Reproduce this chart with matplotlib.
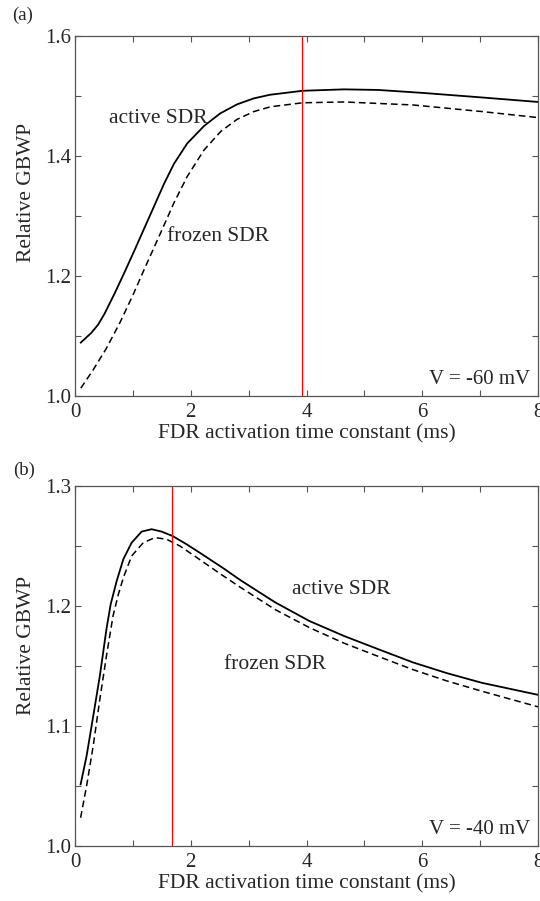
import matplotlib
matplotlib.use("Agg")
import matplotlib.pyplot as plt
from matplotlib.ticker import MultipleLocator

plt.rcParams['font.family'] = ['Liberation Serif', 'DejaVu Serif']

# (a) V = -60 mV
tau_a_act = [0.10, 0.28, 0.40, 0.51, 0.68, 0.85, 1.02, 1.19, 1.37, 1.54, 1.71, 1.94, 2.23, 2.51, 2.80, 3.09,
             3.37, 3.93, 4.65, 5.24, 6.02, 7.03, 8.0]
gbwp_a_act = [1.089, 1.105, 1.119, 1.137, 1.170, 1.205, 1.241, 1.278, 1.317, 1.354, 1.387, 1.421, 1.450, 1.471,
              1.486, 1.496, 1.502, 1.5086, 1.511, 1.510, 1.505, 1.4975, 1.490]
tau_a_frz = [0.10, 0.31, 0.54, 0.77, 1.00, 1.21, 1.48, 1.71, 1.94, 2.23, 2.52, 2.80, 3.09, 3.38,
             3.93, 4.65, 5.84, 7.03, 8.0]
gbwp_a_frz = [1.013, 1.043, 1.079, 1.121, 1.168, 1.214, 1.272, 1.322, 1.366, 1.410, 1.441, 1.461, 1.474, 1.482,
              1.4886, 1.490, 1.485, 1.474, 1.464]
tau_a_opt = 3.93

# (b) V = -40 mV
tau_b_act = [0.097, 0.20, 0.314, 0.429, 0.543, 0.616, 0.72, 0.835, 0.979, 1.151, 1.324, 1.497, 1.687, 1.929,
             2.216, 2.562, 2.86, 3.46, 4.05, 4.65, 5.24, 5.84, 6.43, 7.03, 8.0]
gbwp_b_act = [1.0514, 1.075, 1.108, 1.1417, 1.1806, 1.2014, 1.2208, 1.239, 1.2528, 1.262, 1.264, 1.262, 1.2583,
              1.2514, 1.2425, 1.2315, 1.2215, 1.203, 1.1875, 1.175, 1.164, 1.153, 1.144, 1.136, 1.126]
tau_b_frz = [0.097, 0.20, 0.314, 0.429, 0.543, 0.657, 0.745, 0.835, 0.979, 1.18, 1.382, 1.583, 1.813, 2.101,
             2.504, 2.86, 3.46, 4.05, 4.65, 5.24, 5.84, 6.43, 7.03, 8.0]
gbwp_b_frz = [1.0236, 1.050, 1.0833, 1.1222, 1.1583, 1.1917, 1.209, 1.2236, 1.2417, 1.2528, 1.257, 1.2556, 1.250,
              1.2405, 1.227, 1.2155, 1.197, 1.182, 1.169, 1.158, 1.147, 1.1375, 1.129, 1.116]
tau_b_opt = 1.68

txt = '#262626'
fig = plt.figure(figsize=(5.4, 9.01), dpi=100)
ax1 = fig.add_axes([0.1389, 0.5605, 0.8574, 0.3996])
ax2 = fig.add_axes([0.1389, 0.0610, 0.8574, 0.3996])


def style(ax, ylim, major, minor, ylab_y):
    ax.set_xlim(0, 8)
    ax.set_ylim(*ylim)
    ax.xaxis.set_major_locator(MultipleLocator(2))
    ax.xaxis.set_minor_locator(MultipleLocator(1))
    ax.yaxis.set_major_locator(MultipleLocator(major))
    ax.yaxis.set_minor_locator(MultipleLocator(minor))
    ax.yaxis.set_major_formatter(lambda v, p: f'{v:.1f}')
    ax.tick_params(which='both', direction='in', top=True, right=True, colors='#555555',
                   labelcolor=txt, labelsize=15, length=4, width=0.8)
    ax.tick_params(axis='x', which='both', pad=5)
    ax.tick_params(axis='y', which='both', pad=2.5)
    for s in ax.spines.values():
        s.set_color('#555555')
        s.set_linewidth(0.9)
    ax.set_xlabel('FDR activation time constant (ms)', fontsize=15.5, color=txt, labelpad=1.5)
    ax.set_ylabel('Relative GBWP', fontsize=15.5, color=txt)
    ax.yaxis.set_label_coords(-0.084, ylab_y)


# Painel (a)
ax1.plot(tau_a_act, gbwp_a_act, color='black', lw=1.3)
ax1.plot(tau_a_frz, gbwp_a_frz, color='black', lw=1.1, ls=(0, (4.4, 2.6)))
ax1.axvline(tau_a_opt, color='red', lw=0.9)
style(ax1, (1.0, 1.6), 0.2, 0.1, 0.564)
ax1.text(0.59, 1.463, 'active SDR', fontsize=15.5, color=txt, va='center', ha='left')
ax1.text(1.59, 1.265, 'frozen SDR', fontsize=15.5, color=txt, va='center', ha='left')
ax1.text(7.86, 1.028, 'V = -60 mV', fontsize=15, color=txt, va='center', ha='right')
fig.text(0.022, 0.983, '(a)', fontsize=13.5, color=txt, va='center', ha='left')

# Painel (b)
ax2.plot(tau_b_act, gbwp_b_act, color='black', lw=1.3)
ax2.plot(tau_b_frz, gbwp_b_frz, color='black', lw=1.1, ls=(0, (4.4, 2.6)))
ax2.axvline(tau_b_opt, color='red', lw=0.9)
style(ax2, (1.0, 1.3), 0.1, 0.05, 0.558)
ax2.text(3.745, 1.214, 'active SDR', fontsize=15.5, color=txt, va='center', ha='left')
ax2.text(2.566, 1.151, 'frozen SDR', fontsize=15.5, color=txt, va='center', ha='left')
ax2.text(7.86, 1.014, 'V = -40 mV', fontsize=15, color=txt, va='center', ha='right')
fig.text(0.024, 0.478, '(b)', fontsize=13.5, color=txt, va='center', ha='left')

fig.savefig('out.png', dpi=100)
